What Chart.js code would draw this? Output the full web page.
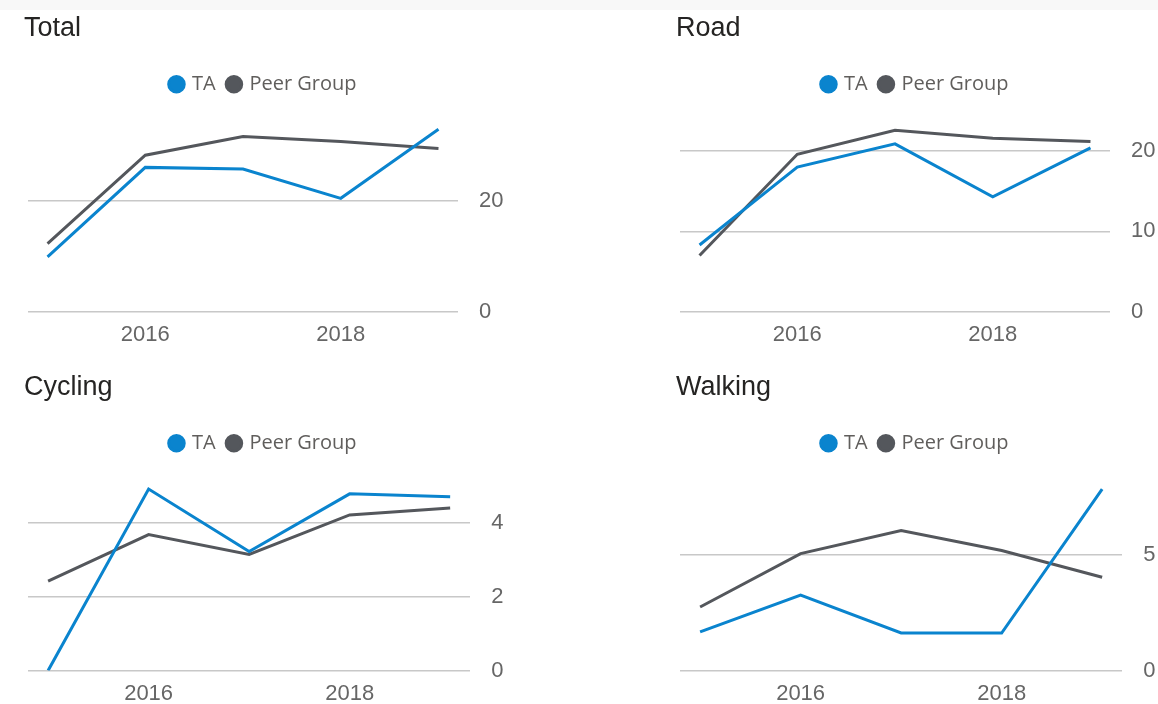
<!DOCTYPE html>
<html><head><meta charset="utf-8">
<script src="https://cdn.jsdelivr.net/npm/chart.js@4.4.1/dist/chart.umd.min.js"></script>
<style>
html,body{margin:0;padding:0;background:#fff;width:1158px;height:704px;overflow:hidden;position:relative}
#strip{position:absolute;left:0;top:0;width:1158px;height:10px;background:#f8f8f8;z-index:2}
.box{position:absolute;width:520px;height:346px}
</style></head><body>
<div id="strip"></div>
<div class="box" style="left:0;top:1px"><canvas id="cTotal"></canvas></div>
<div class="box" style="left:652px;top:1px"><canvas id="cRoad"></canvas></div>
<div class="box" style="left:0;top:360px"><canvas id="cCycling"></canvas></div>
<div class="box" style="left:652px;top:360px"><canvas id="cWalking"></canvas></div>
<script>
const years = [2015, 2016, 2017, 2018, 2019];
const xTickLabels = [2016, 2018];
const seriesNames = ['TA', 'Peer Group'];

const totalTA   = [9.9, 26.1, 25.8, 20.5, 33.0];
const totalPeer = [12.3, 28.3, 31.7, 30.8, 29.5];
const roadTA    = [8.3, 18.0, 20.9, 14.3, 20.4];
const roadPeer  = [7.0, 19.6, 22.6, 21.6, 21.2];
const cyclingTA   = [0.0, 4.91, 3.22, 4.78, 4.70];
const cyclingPeer = [2.42, 3.68, 3.14, 4.21, 4.40];
const walkingTA   = [1.67, 3.25, 1.62, 1.62, 7.82];
const walkingPeer = [2.74, 5.04, 6.03, 5.17, 4.02];

const totalTicks = [0, 20];
const roadTicks = [0, 10, 20];
const cyclingTicks = [0, 2, 4];
const walkingTicks = [0, 5];

const BLUE = '#0A84CE';
const GRAY = '#54575C';
const TICK = '#666666';

function pts(vals) { return years.map((y, i) => ({x: y, y: vals[i]})); }

const legendGap = {
  id: 'legendGap',
  beforeInit(chart) {
    const lg = chart.legend;
    if (!lg) return;
    const orig = lg.fit;
    lg.fit = function () { orig.call(this); this.height += 14; };
  }
};

function makeChart(id, title, ta, peer, yTicks, yMax) {
  new Chart(document.getElementById(id), {
    type: 'line',
    plugins: [legendGap],
    data: {
      datasets: [
        {label: seriesNames[0], data: pts(ta), borderColor: BLUE, backgroundColor: BLUE, borderWidth: 3, pointRadius: 0, tension: 0},
        {label: seriesNames[1], data: pts(peer), borderColor: GRAY, backgroundColor: GRAY, borderWidth: 3, pointRadius: 0, tension: 0}
      ]
    },
    options: {
      responsive: true, maintainAspectRatio: false, animation: false,
      layout: {padding: {left: 24, right: 16.5, top: 0, bottom: 0}},
      plugins: {
        title: {display: true, text: title, align: 'start', color: '#252423',
          font: {family: 'Liberation Sans', size: 27, weight: 'normal'}, padding: {top: 11, bottom: 17}},
        legend: {display: true, position: 'top', align: 'center',
          labels: {usePointStyle: true, pointStyle: 'circle', boxWidth: 11, boxHeight: 11, padding: 12.8,
            color: '#605E5C', font: {family: 'Open Sans', size: 20}}},
        tooltip: {enabled: false}
      },
      scales: {
        x: {type: 'linear', min: 2014.8, max: 2019.2,
          grid: {display: false, drawTicks: false}, border: {display: false},
          ticks: {color: TICK, font: {family: 'Liberation Sans', size: 22}, padding: 10, callback: v => String(v)},
          afterBuildTicks: s => { s.ticks = xTickLabels.map(v => ({value: v})); },
          afterFit: s => { s.paddingLeft = 28; s.paddingRight = 0; s.height -= 11; }},
        y: {position: 'right', min: 0, max: yMax,
          grid: {color: '#C8C8C8', lineWidth: 1.5, drawTicks: false}, border: {display: false},
          ticks: {color: TICK, font: {family: 'Liberation Sans', size: 22}, padding: 21},
          afterBuildTicks: s => { s.ticks = yTicks.map(v => ({value: v})); },
          afterFit: s => { s.paddingTop = 0; s.paddingBottom = 0; s.width -= 21; }}
      }
    }
  });
}

makeChart('cTotal', 'Total', totalTA, totalPeer, totalTicks, 35);
makeChart('cRoad', 'Road', roadTA, roadPeer, roadTicks, 24.1);
makeChart('cCycling', 'Cycling', cyclingTA, cyclingPeer, cyclingTicks, 5.23);
makeChart('cWalking', 'Walking', walkingTA, walkingPeer, walkingTicks, 8.33);
</script>
</body></html>
